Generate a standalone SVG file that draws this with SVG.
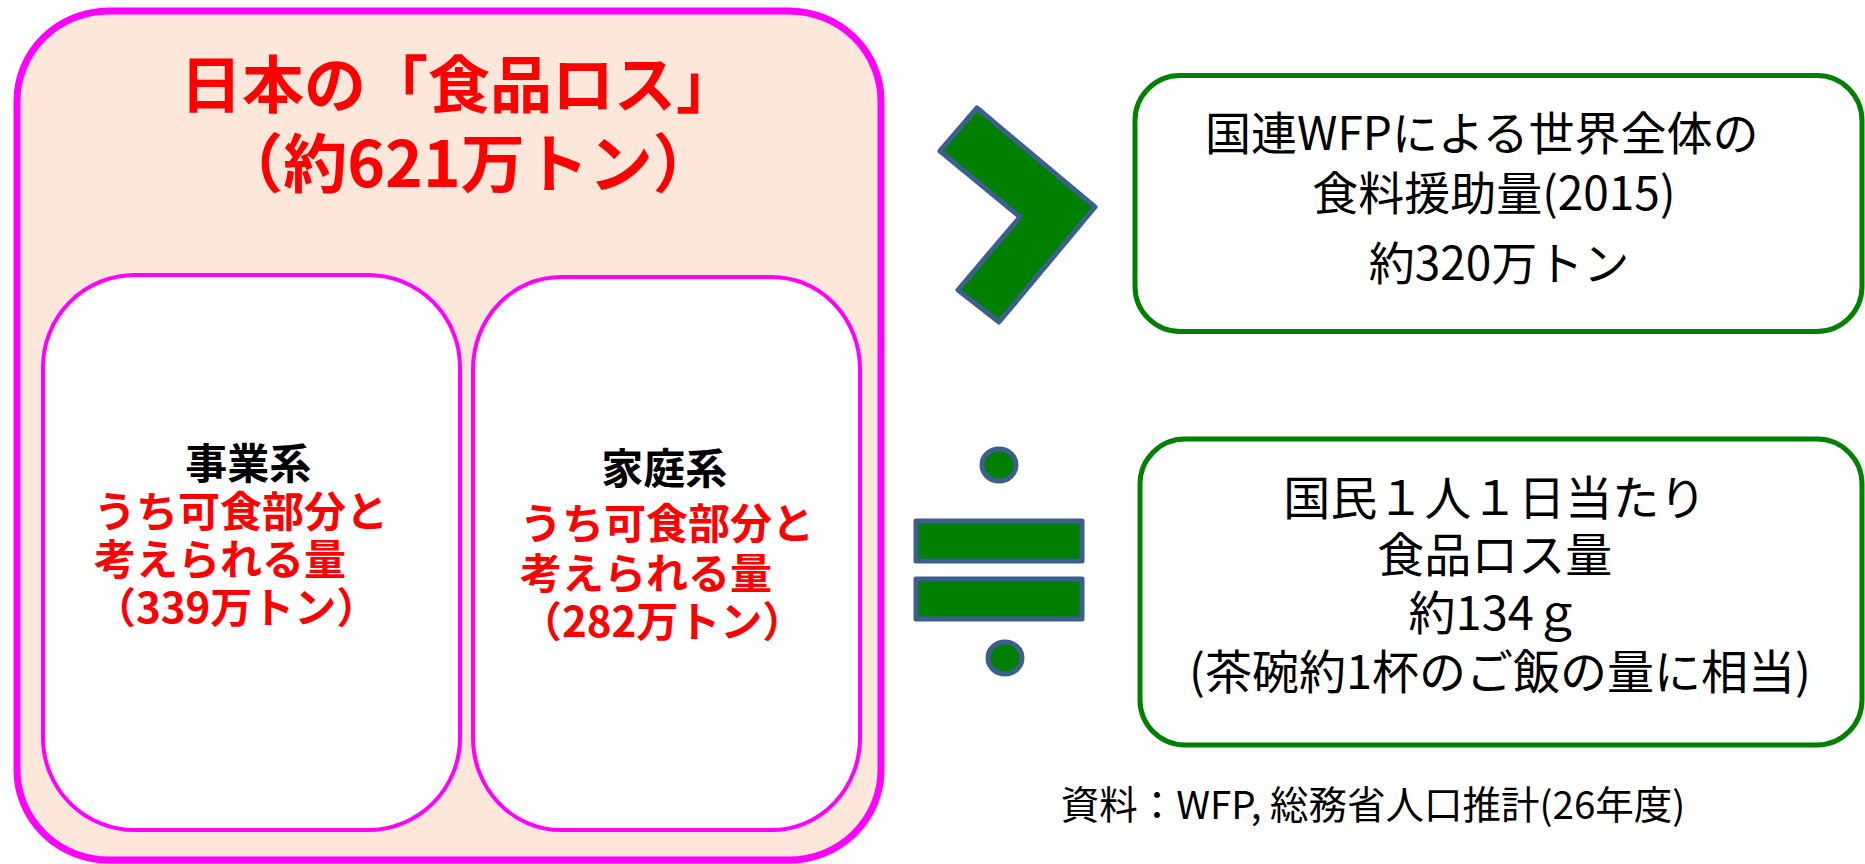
<svg xmlns="http://www.w3.org/2000/svg" width="1865" height="864" viewBox="0 0 1865 864">
  <style>
    .jp { font-family: "Noto Sans CJK JP", "Noto Sans", sans-serif; }
    .title { font-size: 62px; font-weight: bold; fill: #FF0000; text-anchor: middle; }
    .head { font-size: 42px; font-weight: bold; fill: #000000; text-anchor: middle; }
    .red { font-size: 42px; font-weight: bold; fill: #FF0000; text-anchor: start; }
    .box1 { font-size: 46px; fill: #000000; text-anchor: middle; }
    .box2 { font-size: 47px; fill: #000000; text-anchor: middle; }
    .src { font-size: 38.5px; fill: #000000; text-anchor: middle; }
    .greenbox { fill: #FFFFFF; stroke: #008000; stroke-width: 5; }
    .inner { fill: #FFFFFF; stroke: #FF00FF; stroke-width: 4; }
    .sym { fill: #008000; stroke: #3C5F8E; stroke-width: 5; stroke-linejoin: round; }
  </style>
  <rect x="0" y="0" width="1865" height="864" fill="#FFFFFF"/>

  <g id="japan-food-loss">
    <rect x="17" y="11" width="864" height="849" rx="92" ry="90" fill="#FDE6DA" stroke="#FF00FF" stroke-width="7"/>
    <text class="jp title">
      <tspan x="466" y="108">日本の「食品ロス」</tspan>
      <tspan x="468" y="187" font-size="64">（約621万トン）</tspan>
    </text>
  </g>

  <g id="business">
    <rect class="inner" x="43" y="275" width="417" height="555" rx="92" ry="92"/>
    <text class="jp">
      <tspan class="head" x="250" y="479">事業系</tspan>
      <tspan class="red" x="94" y="527">うち可食部分と</tspan>
      <tspan class="red" x="94" y="575">考えられる量</tspan>
      <tspan class="red" x="94" y="623">（339万トン）</tspan>
    </text>
  </g>

  <g id="household">
    <rect class="inner" x="473" y="277" width="387" height="553" rx="88" ry="92"/>
    <text class="jp">
      <tspan class="head" x="666" y="484">家庭系</tspan>
      <tspan class="red" x="520" y="539">うち可食部分と</tspan>
      <tspan class="red" x="520" y="589">考えられる量</tspan>
      <tspan class="red" x="520" y="637">（282万トン）</tspan>
    </text>
  </g>

  <g id="wfp-aid">
    <rect class="greenbox" x="1135" y="75.5" width="727" height="256" rx="45" ry="45"/>
    <text class="jp box1">
      <tspan x="1487" y="150">国連WFPによる世界全体の</tspan>
      <tspan x="1499" y="210">食料援助量(2015)</tspan>
      <tspan x="1499" y="280">約320万トン</tspan>
    </text>
  </g>

  <g id="per-capita">
    <rect class="greenbox" x="1140" y="439" width="722" height="306" rx="45" ry="45"/>
    <text class="jp box2">
      <tspan x="1500" y="515">国民１人１日当たり</tspan>
      <tspan x="1500" y="572">食品ロス量</tspan>
      <tspan x="1500" y="630">約134ｇ</tspan>
      <tspan x="1500" y="689">(茶碗約1杯のご飯の量に相当)</tspan>
    </text>
  </g>

  <g id="source">
    <text class="jp src" x="1373" y="819">資料：WFP, 総務省人口推計(26年度)</text>
  </g>

  <g id="connectors">
    <polygon class="sym" points="977,108 1095,207 999,322 958,290 1020,217 940,151"/>
    <g id="approx-equal">
      <ellipse class="sym" cx="999" cy="465" rx="17" ry="16"/>
      <rect class="sym" x="916" y="521" width="166" height="40"/>
      <rect class="sym" x="916" y="579" width="166" height="40"/>
      <ellipse class="sym" cx="1005" cy="658" rx="17" ry="16"/>
    </g>
  </g>
</svg>
